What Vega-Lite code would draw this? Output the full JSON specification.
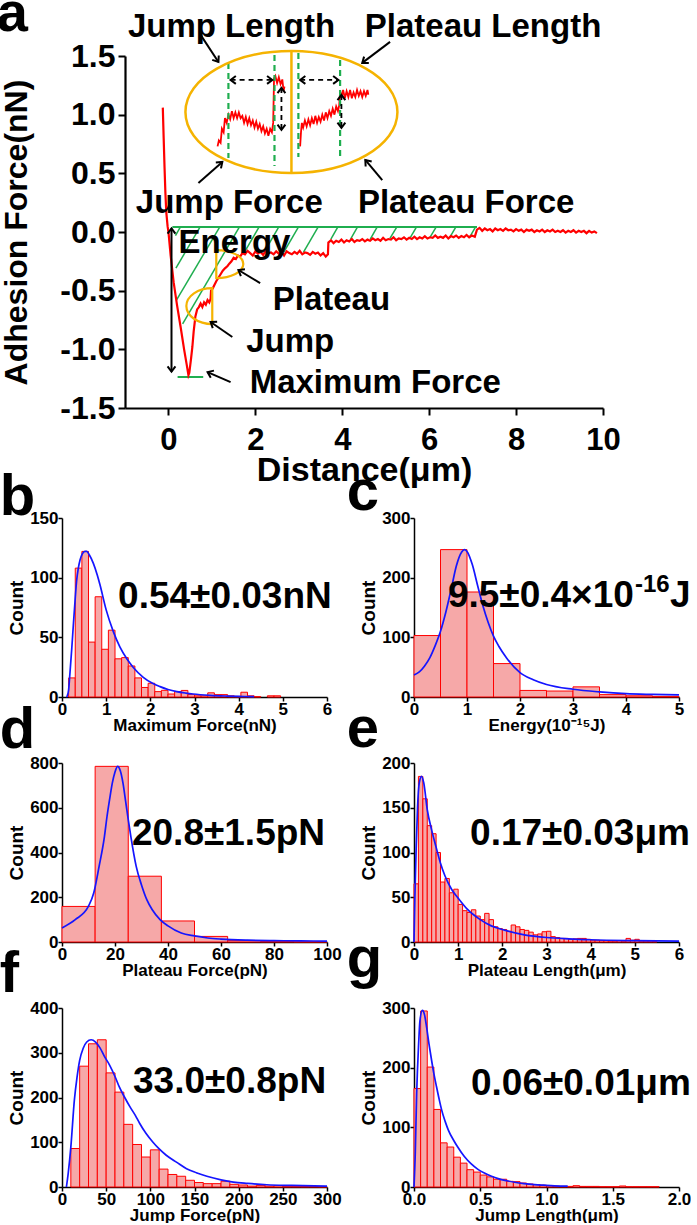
{
"$schema": "https://vega.github.io/schema/vega-lite/v6.json",
"background": "white",
"padding": {"left": -4, "top": -15, "right": 0, "bottom": 0},
"config": {
 "font": "Liberation Sans",
 "view": {"stroke": null},
 "axis": {"grid": false, "domainColor": "#000", "domainWidth": 1.5, "tickColor": "#000", "tickWidth": 1.5, "labelColor": "#000", "titleColor": "#000", "labelFont": "Liberation Sans", "titleFont": "Liberation Sans", "labelFontWeight": "bold", "titleFontWeight": "bold", "labelFontSize": 17, "titleFontSize": 17, "labelOverlap": false, "labelFlush": false, "labelPadding": 0, "titlePadding": 0},
 "axisY": {"titleFontSize": 19, "titlePadding": 3},
 "title": {"font": "Liberation Sans", "fontWeight": "bold", "fontSize": 58, "anchor": "start", "frame": "bounds", "color": "#000", "offset": 0, "baseline": "alphabetic"}
},
"datasets": {
 "aHatch": [
  {"x":0.276,"y":0.043,"x2":0.161,"y2":-0.030},{"x":0.729,"y":0.043,"x2":0.172,"y2":-0.307},{"x":1.182,"y":0.043,"x2":0.184,"y2":-0.580},{"x":1.634,"y":0.043,"x2":0.326,"y2":-0.783},{"x":2.087,"y":0.043,"x2":1.743,"y2":-0.176},{"x":2.540,"y":0.043,"x2":2.202,"y2":-0.171},{"x":2.993,"y":0.043,"x2":2.655,"y2":-0.171},{"x":3.446,"y":0.043,"x2":3.108,"y2":-0.171},{"x":3.899,"y":0.043,"x2":3.738,"y2":-0.060},{"x":4.352,"y":0.043,"x2":4.191,"y2":-0.060},{"x":4.805,"y":0.043,"x2":4.644,"y2":-0.060},{"x":5.257,"y":0.043,"x2":5.097,"y2":-0.055},{"x":5.710,"y":0.043,"x2":5.554,"y2":-0.055},{"x":6.163,"y":0.043,"x2":6.011,"y2":-0.051},{"x":6.616,"y":0.043,"x2":6.467,"y2":-0.051},{"x":7.069,"y":0.043,"x2":6.931,"y2":-0.043}
 ],
 "aGreen": [{"x":0.09,"y":0.043,"x2":7.1,"y2":0.043},{"x":0.21,"y":-1.236,"x2":0.80,"y2":-1.236}],
 "aGreenDash": [{"x":1.38,"y":1.441,"x2":1.38,"y2":0.631},{"x":2.44,"y":1.509,"x2":2.44,"y2":0.563},{"x":2.99,"y":1.526,"x2":2.99,"y2":0.639},{"x":3.95,"y":1.466,"x2":3.95,"y2":0.639}],
 "aOrangeLine": [{"x":2.83,"y":1.535,"x2":2.83,"y2":0.503}],
 "aBigEllipse": [{"x":2.83,"y":1.023}],
 "aJumpMark": [{"x":0.71,"y":-0.631}],
 "aPlateauMark": [{"x":1.41,"y":-0.273}],
 "aArrows": [{"x":0.07,"y":0.03,"x2":0.07,"y2":-1.19},{"x":0.74,"y":1.68,"x2":1.15,"y2":1.449},{"x":5.10,"y":1.62,"x2":4.46,"y2":1.441},{"x":0.69,"y":0.418,"x2":1.24,"y2":0.597},{"x":4.92,"y":0.443,"x2":4.53,"y2":0.614},{"x":2.11,"y":-0.435,"x2":1.61,"y2":-0.324},{"x":1.47,"y":-0.895,"x2":0.97,"y2":-0.767},{"x":1.43,"y":-1.279,"x2":0.90,"y2":-1.194}],
 "aDashArrows": [{"x":1.43,"y":1.296,"x2":2.39,"y2":1.296},{"x":3.03,"y":1.296,"x2":3.91,"y2":1.296},{"x":2.60,"y":1.228,"x2":2.60,"y2":0.870},{"x":3.98,"y":1.168,"x2":3.98,"y2":0.887}],
 "aHeads": [{"x":0.07,"y":0.03,"angle":-90},{"x":0.07,"y":-1.19,"angle":90},{"x":1.15,"y":1.449,"angle":56},{"x":4.46,"y":1.441,"angle":143},{"x":1.24,"y":0.597,"angle":-41},{"x":4.53,"y":0.614,"angle":-130},{"x":1.61,"y":-0.324,"angle":-149},{"x":0.97,"y":-0.767,"angle":-146},{"x":0.90,"y":-1.194,"angle":-156},{"x":1.43,"y":1.296,"angle":180},{"x":2.39,"y":1.296,"angle":0},{"x":3.03,"y":1.296,"angle":180},{"x":3.91,"y":1.296,"angle":0},{"x":2.60,"y":1.228,"angle":-90},{"x":2.60,"y":0.870,"angle":90},{"x":3.98,"y":1.168,"angle":-90},{"x":3.98,"y":0.887,"angle":90}],
 "aText": [{"label":"Jump Length","x":1.45,"y":1.662},{"label":"Plateau Length","x":7.24,"y":1.662},{"label":"Jump Force","x":1.40,"y":0.162},{"label":"Plateau Force","x":6.85,"y":0.162},{"label":"Energy","x":1.52,"y":-0.179},{"label":"Plateau","x":3.75,"y":-0.665},{"label":"Jump","x":2.80,"y":-1.023},{"label":"Maximum Force","x":4.76,"y":-1.373}],
 "aCurve": [
  {"x":-0.13,"y":1.06},{"x":-0.11,"y":0.8},{"x":-0.09,"y":0.55},{"x":-0.07,"y":0.33},{"x":-0.05,"y":0.17},{"x":-0.02,"y":0.05},{"x":0.0,"y":0.0},{"x":0.05,"y":-0.2},{"x":0.12,"y":-0.43},{"x":0.2,"y":-0.63},{"x":0.28,"y":-0.81},{"x":0.36,"y":-1.0},{"x":0.42,"y":-1.13},{"x":0.46,"y":-1.22},{"x":0.48,"y":-1.2},{"x":0.52,"y":-1.08},{"x":0.55,"y":-0.98},{"x":0.58,"y":-0.85},{"x":0.62,"y":-0.72},{"x":0.66,"y":-0.66},{"x":0.7,"y":-0.64},{"x":0.74,"y":-0.61},{"x":0.78,"y":-0.64},{"x":0.82,"y":-0.6},{"x":0.86,"y":-0.62},{"x":0.9,"y":-0.58},{"x":0.94,"y":-0.6},{"x":0.97,"y":-0.57},{"x":0.98,"y":-0.5},{"x":1.02,"y":-0.48},{"x":1.06,"y":-0.45},{"x":1.1,"y":-0.42},{"x":1.15,"y":-0.39},{"x":1.2,"y":-0.36},{"x":1.25,"y":-0.33},{"x":1.3,"y":-0.31},{"x":1.36,"y":-0.29},{"x":1.4,"y":-0.27},{"x":1.45,"y":-0.25},{"x":1.5,"y":-0.22},{"x":1.55,"y":-0.23},{"x":1.6,"y":-0.2},{"x":1.65,"y":-0.21},{"x":1.7,"y":-0.18},
  {"x":1.76,"y":-0.19},{"x":1.82,"y":-0.16},{"x":1.88,"y":-0.18},{"x":1.94,"y":-0.2},{"x":2.0,"y":-0.165},{"x":2.06,"y":-0.185},{"x":2.12,"y":-0.17},{"x":2.18,"y":-0.195},{"x":2.24,"y":-0.16},{"x":2.3,"y":-0.18},{"x":2.36,"y":-0.175},{"x":2.42,"y":-0.19},{"x":2.48,"y":-0.165},{"x":2.54,"y":-0.185},{"x":2.6,"y":-0.17},{"x":2.66,"y":-0.2},{"x":2.72,"y":-0.165},{"x":2.78,"y":-0.18},{"x":2.84,"y":-0.19},{"x":2.9,"y":-0.17},{"x":2.96,"y":-0.185},{"x":3.02,"y":-0.16},{"x":3.08,"y":-0.19},{"x":3.14,"y":-0.175},{"x":3.2,"y":-0.18},{"x":3.26,"y":-0.195},{"x":3.32,"y":-0.17},{"x":3.38,"y":-0.185},{"x":3.44,"y":-0.175},{"x":3.5,"y":-0.2},{"x":3.56,"y":-0.18},{"x":3.62,"y":-0.21},{"x":3.67,"y":-0.19},
  {"x":3.68,"y":-0.09},{"x":3.74,"y":-0.07},{"x":3.8,"y":-0.095},{"x":3.86,"y":-0.075},{"x":3.92,"y":-0.085},{"x":3.98,"y":-0.065},{"x":4.04,"y":-0.09},{"x":4.1,"y":-0.07},{"x":4.16,"y":-0.08},{"x":4.22,"y":-0.06},{"x":4.28,"y":-0.085},{"x":4.34,"y":-0.07},{"x":4.4,"y":-0.075},{"x":4.46,"y":-0.06},{"x":4.52,"y":-0.08},{"x":4.58,"y":-0.065},{"x":4.64,"y":-0.075},{"x":4.7,"y":-0.055},{"x":4.76,"y":-0.07},{"x":4.82,"y":-0.06},{"x":4.88,"y":-0.075},{"x":4.94,"y":-0.05},{"x":5.0,"y":-0.07},{"x":5.06,"y":-0.06},{"x":5.12,"y":-0.065},{"x":5.18,"y":-0.045},{"x":5.24,"y":-0.07},{"x":5.3,"y":-0.055},{"x":5.36,"y":-0.06},{"x":5.42,"y":-0.045},{"x":5.48,"y":-0.065},{"x":5.54,"y":-0.05},{"x":5.6,"y":-0.06},{"x":5.66,"y":-0.04},{"x":5.72,"y":-0.06},{"x":5.78,"y":-0.045},{"x":5.84,"y":-0.055},{"x":5.9,"y":-0.035},{"x":5.96,"y":-0.055},{"x":6.02,"y":-0.045},{"x":6.08,"y":-0.05},{"x":6.14,"y":-0.03},{"x":6.2,"y":-0.05},{"x":6.26,"y":-0.04},{"x":6.32,"y":-0.05},{"x":6.38,"y":-0.03},{"x":6.44,"y":-0.055},{"x":6.5,"y":-0.035},{"x":6.56,"y":-0.045},{"x":6.62,"y":-0.03},{"x":6.68,"y":-0.05},{"x":6.74,"y":-0.035},{"x":6.8,"y":-0.045},{"x":6.86,"y":-0.025},{"x":6.92,"y":-0.045},{"x":6.98,"y":-0.03},{"x":7.05,"y":-0.04},
  {"x":7.1,"y":0.02},{"x":7.16,"y":0.035},{"x":7.22,"y":0.01},{"x":7.28,"y":0.03},{"x":7.34,"y":0.015},{"x":7.4,"y":0.025},{"x":7.46,"y":0.005},{"x":7.52,"y":0.03},{"x":7.58,"y":0.015},{"x":7.64,"y":0.025},{"x":7.7,"y":0.01},{"x":7.76,"y":0.03},{"x":7.82,"y":0.015},{"x":7.88,"y":0.02},{"x":7.94,"y":0.005},{"x":8.0,"y":0.025},{"x":8.06,"y":0.01},{"x":8.12,"y":0.02},{"x":8.18,"y":0.0},{"x":8.24,"y":0.02},{"x":8.3,"y":0.01},{"x":8.36,"y":0.02},{"x":8.42,"y":0.0},{"x":8.48,"y":0.015},{"x":8.54,"y":0.005},{"x":8.6,"y":0.02},{"x":8.66,"y":0.0},{"x":8.72,"y":0.015},{"x":8.78,"y":0.005},{"x":8.84,"y":0.02},{"x":8.9,"y":0.0},{"x":8.96,"y":0.01},{"x":9.02,"y":0.0},{"x":9.08,"y":0.015},{"x":9.14,"y":-0.005},{"x":9.2,"y":0.01},{"x":9.26,"y":0.0},{"x":9.32,"y":0.015},{"x":9.38,"y":-0.005},{"x":9.44,"y":0.01},{"x":9.5,"y":0.0},{"x":9.56,"y":0.01},{"x":9.62,"y":-0.01},{"x":9.68,"y":0.01},{"x":9.74,"y":-0.005},{"x":9.8,"y":0.005},{"x":9.86,"y":-0.01}
 ],
 "aInset": [
  {"seg":"L","x":1.13,"y":0.73},{"seg":"L","x":1.16,"y":0.78},{"seg":"L","x":1.2,"y":0.76},{"seg":"L","x":1.23,"y":0.88},{"seg":"L","x":1.27,"y":0.85},{"seg":"L","x":1.3,"y":0.97},{"seg":"L","x":1.34,"y":0.93},{"seg":"L","x":1.38,"y":1.0},{"seg":"L","x":1.42,"y":0.96},{"seg":"L","x":1.46,"y":1.03},{"seg":"L","x":1.5,"y":0.97},{"seg":"L","x":1.54,"y":1.02},{"seg":"L","x":1.58,"y":0.97},{"seg":"L","x":1.62,"y":1.02},{"seg":"L","x":1.66,"y":0.97},{"seg":"L","x":1.7,"y":0.99},{"seg":"L","x":1.74,"y":0.93},{"seg":"L","x":1.78,"y":0.98},{"seg":"L","x":1.82,"y":0.92},{"seg":"L","x":1.86,"y":0.97},{"seg":"L","x":1.9,"y":0.91},{"seg":"L","x":1.94,"y":0.95},{"seg":"L","x":1.98,"y":0.89},{"seg":"L","x":2.02,"y":0.94},{"seg":"L","x":2.06,"y":0.88},{"seg":"L","x":2.1,"y":0.92},{"seg":"L","x":2.14,"y":0.86},{"seg":"L","x":2.18,"y":0.9},{"seg":"L","x":2.22,"y":0.84},{"seg":"L","x":2.26,"y":0.88},{"seg":"L","x":2.3,"y":0.82},{"seg":"L","x":2.34,"y":0.88},{"seg":"L","x":2.38,"y":0.85},{"seg":"L","x":2.41,"y":0.93},{"seg":"L","x":2.43,"y":1.31},{"seg":"L","x":2.46,"y":1.33},{"seg":"L","x":2.5,"y":1.27},{"seg":"L","x":2.54,"y":1.32},{"seg":"L","x":2.58,"y":1.26},{"seg":"L","x":2.62,"y":1.3},{"seg":"L","x":2.65,"y":1.2},{"seg":"L","x":2.67,"y":1.24},
  {"seg":"R","x":3.03,"y":0.73},{"seg":"R","x":3.05,"y":0.85},{"seg":"R","x":3.07,"y":0.93},{"seg":"R","x":3.1,"y":0.89},{"seg":"R","x":3.14,"y":0.95},{"seg":"R","x":3.18,"y":0.9},{"seg":"R","x":3.22,"y":0.96},{"seg":"R","x":3.26,"y":0.91},{"seg":"R","x":3.3,"y":0.97},{"seg":"R","x":3.34,"y":0.92},{"seg":"R","x":3.38,"y":0.99},{"seg":"R","x":3.42,"y":0.93},{"seg":"R","x":3.46,"y":0.98},{"seg":"R","x":3.5,"y":0.94},{"seg":"R","x":3.54,"y":1.0},{"seg":"R","x":3.58,"y":0.95},{"seg":"R","x":3.62,"y":1.02},{"seg":"R","x":3.66,"y":0.97},{"seg":"R","x":3.7,"y":1.03},{"seg":"R","x":3.74,"y":0.99},{"seg":"R","x":3.78,"y":1.05},{"seg":"R","x":3.82,"y":1.0},{"seg":"R","x":3.86,"y":1.07},{"seg":"R","x":3.9,"y":1.03},{"seg":"R","x":3.93,"y":1.08},{"seg":"R","x":3.95,"y":1.2},{"seg":"R","x":3.98,"y":1.15},{"seg":"R","x":4.02,"y":1.21},{"seg":"R","x":4.06,"y":1.14},{"seg":"R","x":4.1,"y":1.2},{"seg":"R","x":4.14,"y":1.15},{"seg":"R","x":4.18,"y":1.21},{"seg":"R","x":4.22,"y":1.14},{"seg":"R","x":4.26,"y":1.19},{"seg":"R","x":4.3,"y":1.15},{"seg":"R","x":4.34,"y":1.21},{"seg":"R","x":4.38,"y":1.16},{"seg":"R","x":4.42,"y":1.2},{"seg":"R","x":4.46,"y":1.15},{"seg":"R","x":4.5,"y":1.2},{"seg":"R","x":4.54,"y":1.16},{"seg":"R","x":4.58,"y":1.21},{"seg":"R","x":4.6,"y":1.17}
 ],
 "bBars": [{"x0":0.15,"x1":0.3,"count":16},{"x0":0.3,"x1":0.45,"count":108},{"x0":0.45,"x1":0.6,"count":122},{"x0":0.6,"x1":0.75,"count":46},{"x0":0.75,"x1":0.9,"count":84},{"x0":0.9,"x1":1.05,"count":40},{"x0":1.05,"x1":1.2,"count":56},{"x0":1.2,"x1":1.35,"count":32},{"x0":1.35,"x1":1.5,"count":33},{"x0":1.5,"x1":1.65,"count":26},{"x0":1.65,"x1":1.8,"count":16},{"x0":1.8,"x1":1.95,"count":8},{"x0":1.95,"x1":2.1,"count":11.5},{"x0":2.1,"x1":2.25,"count":4.5},{"x0":2.25,"x1":2.4,"count":5.6},{"x0":2.4,"x1":2.55,"count":2.5},{"x0":2.55,"x1":2.7,"count":4.5},{"x0":2.7,"x1":2.85,"count":5.5},{"x0":2.85,"x1":3.0,"count":2},{"x0":3.0,"x1":3.15,"count":1},{"x0":3.15,"x1":3.3,"count":1},{"x0":3.3,"x1":3.45,"count":3.5},{"x0":3.45,"x1":3.6,"count":2},{"x0":3.6,"x1":3.75,"count":2},{"x0":3.75,"x1":3.9,"count":1},{"x0":3.9,"x1":4.05,"count":0.5},{"x0":4.05,"x1":4.2,"count":4},{"x0":4.2,"x1":4.35,"count":1},{"x0":4.35,"x1":4.5,"count":0.3},{"x0":4.65,"x1":4.8,"count":1},{"x0":4.8,"x1":4.95,"count":1}],
 "bFit": [{"x":0.1,"y":0},{"x":0.12,"y":1},{"x":0.15,"y":6},{"x":0.18,"y":20},{"x":0.22,"y":40},{"x":0.26,"y":62},{"x":0.3,"y":83},{"x":0.33,"y":97},{"x":0.37,"y":108},{"x":0.41,"y":115},{"x":0.46,"y":120},{"x":0.52,"y":122},{"x":0.56,"y":122},{"x":0.62,"y":119},{"x":0.71,"y":112},{"x":0.8,"y":102},{"x":0.86,"y":94},{"x":1.0,"y":73},{"x":1.16,"y":55},{"x":1.31,"y":42},{"x":1.46,"y":32.5},{"x":1.61,"y":25},{"x":1.84,"y":16.5},{"x":2.05,"y":11.5},{"x":2.22,"y":8.7},{"x":2.4,"y":6.3},{"x":2.6,"y":4.5},{"x":2.8,"y":3.3},{"x":2.97,"y":2.5},{"x":3.35,"y":1.4},{"x":3.73,"y":0.8},{"x":4.0,"y":0.5},{"x":4.35,"y":0.3}],
 "cBars": [{"x0":0,"x1":0.5,"count":103},{"x0":0.5,"x1":1,"count":247},{"x0":1,"x1":1.5,"count":176},{"x0":1.5,"x1":2,"count":56},{"x0":2,"x1":2.5,"count":11},{"x0":2.5,"x1":3,"count":10},{"x0":3,"x1":3.5,"count":17},{"x0":3.5,"x1":4,"count":4},{"x0":4,"x1":4.5,"count":2},{"x0":4.5,"x1":5,"count":1}],
 "cFit": [{"x":0,"y":37},{"x":0.1,"y":42},{"x":0.2,"y":52},{"x":0.3,"y":66},{"x":0.4,"y":86},{"x":0.5,"y":110},{"x":0.6,"y":142},{"x":0.7,"y":180},{"x":0.8,"y":220},{"x":0.9,"y":243},{"x":0.95,"y":247},{"x":1.0,"y":244},{"x":1.1,"y":222},{"x":1.2,"y":187},{"x":1.3,"y":153},{"x":1.4,"y":125},{"x":1.5,"y":102},{"x":1.6,"y":85},{"x":1.75,"y":65},{"x":2.0,"y":41},{"x":2.25,"y":29},{"x":2.5,"y":21},{"x":3.0,"y":13},{"x":3.5,"y":8.5},{"x":4.0,"y":5.5},{"x":4.5,"y":4.3},{"x":5.0,"y":3.5}],
 "dBars": [{"x0":0,"x1":12.5,"count":159},{"x0":12.5,"x1":25,"count":785},{"x0":25,"x1":37.5,"count":294},{"x0":37.5,"x1":50,"count":94},{"x0":50,"x1":62.5,"count":25},{"x0":62.5,"x1":75,"count":6},{"x0":75,"x1":87.5,"count":2},{"x0":87.5,"x1":100,"count":1}],
 "dFit": [{"x":0,"y":63},{"x":5,"y":100},{"x":10,"y":160},{"x":12,"y":220},{"x":14,"y":338},{"x":16,"y":470},{"x":17,"y":562},{"x":18,"y":640},{"x":19,"y":711},{"x":20,"y":760},{"x":21,"y":785},{"x":22,"y":765},{"x":23,"y":711},{"x":24,"y":630},{"x":25,"y":547},{"x":26,"y":470},{"x":28,"y":338},{"x":30,"y":255},{"x":32,"y":189},{"x":34,"y":145},{"x":37,"y":100},{"x":40,"y":72},{"x":45,"y":40},{"x":50,"y":27},{"x":55,"y":18},{"x":60,"y":13},{"x":70,"y":8},{"x":80,"y":6},{"x":90,"y":5},{"x":100,"y":4}],
 "eBars": [{"x0":0,"x1":0.1,"count":65},{"x0":0.1,"x1":0.2,"count":185},{"x0":0.2,"x1":0.3,"count":160},{"x0":0.3,"x1":0.4,"count":130},{"x0":0.4,"x1":0.5,"count":121},{"x0":0.5,"x1":0.6,"count":100},{"x0":0.6,"x1":0.7,"count":67},{"x0":0.7,"x1":0.8,"count":71},{"x0":0.8,"x1":0.9,"count":55},{"x0":0.9,"x1":1.0,"count":59},{"x0":1.0,"x1":1.1,"count":42},{"x0":1.1,"x1":1.2,"count":35},{"x0":1.2,"x1":1.3,"count":33},{"x0":1.3,"x1":1.4,"count":36},{"x0":1.4,"x1":1.5,"count":29},{"x0":1.5,"x1":1.6,"count":25},{"x0":1.6,"x1":1.7,"count":32},{"x0":1.7,"x1":1.8,"count":25},{"x0":1.8,"x1":1.9,"count":17},{"x0":1.9,"x1":2.0,"count":15},{"x0":2.0,"x1":2.1,"count":14},{"x0":2.1,"x1":2.2,"count":12},{"x0":2.2,"x1":2.3,"count":19},{"x0":2.3,"x1":2.4,"count":17},{"x0":2.4,"x1":2.5,"count":14},{"x0":2.5,"x1":2.6,"count":13},{"x0":2.6,"x1":2.7,"count":11},{"x0":2.7,"x1":2.8,"count":8},{"x0":2.8,"x1":2.9,"count":9},{"x0":2.9,"x1":3.0,"count":11.5},{"x0":3.0,"x1":3.1,"count":12},{"x0":3.1,"x1":3.2,"count":6},{"x0":3.2,"x1":3.3,"count":5},{"x0":3.3,"x1":3.4,"count":4},{"x0":3.4,"x1":3.5,"count":4},{"x0":3.5,"x1":3.6,"count":3},{"x0":3.6,"x1":3.7,"count":3.5},{"x0":3.7,"x1":3.8,"count":4},{"x0":3.8,"x1":3.9,"count":4},{"x0":3.9,"x1":4.0,"count":3},{"x0":4.0,"x1":4.1,"count":2},{"x0":4.1,"x1":4.2,"count":2},{"x0":4.2,"x1":4.3,"count":1.5},{"x0":4.3,"x1":4.4,"count":1.5},{"x0":4.4,"x1":4.5,"count":1},{"x0":4.5,"x1":4.6,"count":1},{"x0":4.6,"x1":4.7,"count":1.5},{"x0":4.7,"x1":4.8,"count":1},{"x0":4.8,"x1":4.9,"count":4},{"x0":4.9,"x1":5.0,"count":2},{"x0":5.0,"x1":5.1,"count":3},{"x0":5.1,"x1":5.2,"count":1},{"x0":5.2,"x1":5.3,"count":1},{"x0":5.3,"x1":5.4,"count":1},{"x0":5.4,"x1":5.5,"count":0.5}],
 "eFit": [{"x":0,"y":0},{"x":0.02,"y":50},{"x":0.05,"y":106},{"x":0.08,"y":150},{"x":0.12,"y":178},{"x":0.17,"y":185},{"x":0.22,"y":178},{"x":0.3,"y":148},{"x":0.4,"y":125},{"x":0.5,"y":106},{"x":0.6,"y":88},{"x":0.7,"y":74},{"x":0.85,"y":59},{"x":1.0,"y":49},{"x":1.2,"y":37},{"x":1.5,"y":25},{"x":1.75,"y":18},{"x":2.0,"y":14},{"x":2.5,"y":8},{"x":3.0,"y":5},{"x":3.5,"y":3.5},{"x":4.0,"y":2.5},{"x":5.0,"y":1.5},{"x":6.0,"y":1}],
 "fBars": [{"x0":10,"x1":20,"count":86},{"x0":20,"x1":30,"count":270},{"x0":30,"x1":40,"count":320},{"x0":40,"x1":50,"count":329},{"x0":50,"x1":60,"count":255},{"x0":60,"x1":70,"count":212},{"x0":70,"x1":80,"count":140},{"x0":80,"x1":90,"count":95},{"x0":90,"x1":100,"count":67},{"x0":100,"x1":110,"count":83},{"x0":110,"x1":120,"count":40},{"x0":120,"x1":130,"count":28},{"x0":130,"x1":140,"count":24},{"x0":140,"x1":150,"count":15},{"x0":150,"x1":160,"count":10},{"x0":160,"x1":170,"count":7.5},{"x0":170,"x1":180,"count":7.5},{"x0":180,"x1":190,"count":13},{"x0":190,"x1":200,"count":6},{"x0":200,"x1":210,"count":4.5},{"x0":210,"x1":220,"count":2},{"x0":220,"x1":230,"count":3.7},{"x0":230,"x1":240,"count":2},{"x0":240,"x1":250,"count":3},{"x0":250,"x1":260,"count":1.5},{"x0":260,"x1":270,"count":1.5},{"x0":270,"x1":280,"count":1},{"x0":280,"x1":290,"count":1},{"x0":290,"x1":300,"count":0.7}],
 "fFit": [{"x":5,"y":0},{"x":7,"y":30},{"x":10,"y":89},{"x":14,"y":194},{"x":17,"y":245},{"x":20,"y":283},{"x":24,"y":310},{"x":28,"y":324},{"x":33,"y":329},{"x":38,"y":324},{"x":43,"y":311},{"x":48,"y":292},{"x":54,"y":272},{"x":60,"y":247},{"x":65,"y":223},{"x":71,"y":200},{"x":77,"y":179},{"x":83,"y":160},{"x":88,"y":142},{"x":95,"y":120},{"x":103,"y":100},{"x":110,"y":85},{"x":118,"y":71},{"x":130,"y":55},{"x":141,"y":41},{"x":152,"y":32},{"x":164,"y":24},{"x":180,"y":16},{"x":194,"y":11},{"x":210,"y":8},{"x":232,"y":5},{"x":260,"y":3.5},{"x":300,"y":2}],
 "gBars": [{"x0":0,"x1":0.05,"count":165},{"x0":0.05,"x1":0.1,"count":295},{"x0":0.1,"x1":0.15,"count":201},{"x0":0.15,"x1":0.2,"count":130},{"x0":0.2,"x1":0.25,"count":74},{"x0":0.25,"x1":0.3,"count":67},{"x0":0.3,"x1":0.35,"count":50},{"x0":0.35,"x1":0.4,"count":40},{"x0":0.4,"x1":0.45,"count":29},{"x0":0.45,"x1":0.5,"count":25},{"x0":0.5,"x1":0.55,"count":20},{"x0":0.55,"x1":0.6,"count":17},{"x0":0.6,"x1":0.65,"count":13},{"x0":0.65,"x1":0.7,"count":13},{"x0":0.7,"x1":0.75,"count":9.5},{"x0":0.75,"x1":0.8,"count":9},{"x0":0.8,"x1":0.85,"count":6.7},{"x0":0.85,"x1":0.9,"count":5},{"x0":0.9,"x1":0.95,"count":4},{"x0":0.95,"x1":1.0,"count":3},{"x0":1.0,"x1":1.05,"count":2},{"x0":1.05,"x1":1.1,"count":1.5},{"x0":1.1,"x1":1.15,"count":1},{"x0":1.15,"x1":1.2,"count":1},{"x0":1.2,"x1":1.25,"count":2.2},{"x0":1.25,"x1":1.3,"count":1},{"x0":1.3,"x1":1.35,"count":1},{"x0":1.35,"x1":1.4,"count":1},{"x0":1.4,"x1":1.45,"count":0.5},{"x0":1.45,"x1":1.5,"count":0.5},{"x0":1.5,"x1":1.55,"count":0.5},{"x0":1.55,"x1":1.6,"count":1.7},{"x0":1.6,"x1":1.65,"count":0.5},{"x0":1.65,"x1":1.7,"count":0.5},{"x0":1.7,"x1":1.75,"count":0.5},{"x0":1.75,"x1":1.8,"count":0.5},{"x0":1.8,"x1":1.85,"count":0.5}],
 "gFit": [{"x":0,"y":0},{"x":0.01,"y":60},{"x":0.02,"y":156},{"x":0.035,"y":240},{"x":0.045,"y":279},{"x":0.063,"y":296},{"x":0.08,"y":288},{"x":0.095,"y":268},{"x":0.113,"y":240},{"x":0.133,"y":212},{"x":0.15,"y":190},{"x":0.17,"y":168},{"x":0.19,"y":147},{"x":0.21,"y":128},{"x":0.235,"y":110},{"x":0.26,"y":95},{"x":0.3,"y":78},{"x":0.33,"y":67},{"x":0.38,"y":51},{"x":0.43,"y":39},{"x":0.48,"y":30},{"x":0.535,"y":23},{"x":0.585,"y":18},{"x":0.635,"y":14},{"x":0.7,"y":10.5},{"x":0.76,"y":8},{"x":0.83,"y":5.8},{"x":0.91,"y":4},{"x":0.98,"y":3},{"x":1.06,"y":2},{"x":1.16,"y":1.5}]
},
"concat": [
   {"width": 265, "height": 396,
    "title": {"text": "a", "dx": -4, "dy": 36, "fontSize": 56},
    "layer": [
     {"data": {"name": "aHatch"}, "mark": {"type": "rule", "color": "#1fae4f", "strokeWidth": 1.5},
      "encoding": {
       "x": {"field": "x", "type": "quantitative", "scale": {"domain": [-1, 10], "range": [63, 541], "nice": false, "zero": false},
             "axis": {"title": "Distance(μm)", "offset": -44, "values": [0,1,2,3,4,5,6,7,8,9,10], "labelExpr": "datum.value % 2 === 0 ? datum.label : ''", "tickSize": {"condition": {"test": "datum.value % 2 === 0", "value": 7}, "value": 4}, "labelFontSize": 31, "titleFontSize": 34, "domainWidth": 2.2, "tickWidth": 2, "labelPadding": 10, "titlePadding": -2}},
       "y": {"field": "y", "type": "quantitative", "scale": {"domain": [-1.5, 1.5], "range": [352, 0], "nice": false, "zero": false},
             "axis": {"title": "Adhesion Force(nN)", "offset": -63, "values": [-1.5,-1.25,-1,-0.75,-0.5,-0.25,0,0.25,0.5,0.75,1,1.25,1.5], "labelExpr": "datum.value % 0.5 === 0 ? replace(format(datum.value, '.1f'), '\u2212', '-') : ''", "tickSize": {"condition": {"test": "datum.value % 0.5 === 0", "value": 7}, "value": 4}, "labelFontSize": 32, "titleFontSize": 32, "domainWidth": 2.2, "tickWidth": 2, "labelPadding": 3, "titlePadding": 26}},
       "x2": {"field": "x2"}, "y2": {"field": "y2"}}},
     {"data": {"name": "aGreen"}, "mark": {"type": "rule", "color": "#1fae4f", "strokeWidth": 2},
      "encoding": {"x": {"field": "x", "type": "quantitative"}, "y": {"field": "y", "type": "quantitative"}, "x2": {"field": "x2"}, "y2": {"field": "y2"}}},
     {"data": {"name": "aCurve"}, "mark": {"type": "line", "color": "#ff0000", "strokeWidth": 2.2},
      "encoding": {"x": {"field": "x", "type": "quantitative"}, "y": {"field": "y", "type": "quantitative"}, "order": {"field": "x", "type": "quantitative"}}},
     {"data": {"name": "aInset"}, "mark": {"type": "line", "color": "#ff0000", "strokeWidth": 1.8},
      "encoding": {"x": {"field": "x", "type": "quantitative"}, "y": {"field": "y", "type": "quantitative"}, "detail": {"field": "seg"}}},
     {"data": {"name": "aGreenDash"}, "mark": {"type": "rule", "color": "#1fae4f", "strokeWidth": 2.2, "strokeDash": [6, 4]},
      "encoding": {"x": {"field": "x", "type": "quantitative"}, "y": {"field": "y", "type": "quantitative"}, "x2": {"field": "x2"}, "y2": {"field": "y2"}}},
     {"data": {"name": "aOrangeLine"}, "mark": {"type": "rule", "color": "#f5b301", "strokeWidth": 2.5},
      "encoding": {"x": {"field": "x", "type": "quantitative"}, "y": {"field": "y", "type": "quantitative"}, "x2": {"field": "x2"}, "y2": {"field": "y2"}}},
     {"data": {"name": "aBigEllipse"}, "mark": {"type": "point", "shape": "M-1,0A1,0.575,0,1,0,1,0A1,0.575,0,1,0,-1,0", "size": 44944, "filled": false, "stroke": "#f5b301", "strokeWidth": 2.5, "opacity": 1},
      "encoding": {"x": {"field": "x", "type": "quantitative"}, "y": {"field": "y", "type": "quantitative"}}},
     {"data": {"name": "aJumpMark"}, "mark": {"type": "point", "shape": "M0.72,-1A1.44,1,0,0,0,0.72,1Z", "size": 1296, "filled": false, "stroke": "#f5b301", "strokeWidth": 2.2, "opacity": 1},
      "encoding": {"x": {"field": "x", "type": "quantitative"}, "y": {"field": "y", "type": "quantitative"}}},
     {"data": {"name": "aPlateauMark"}, "mark": {"type": "point", "shape": "M-0.96,-1A1.93,1,0,0,1,-0.96,1Z", "size": 784, "filled": false, "stroke": "#f5b301", "strokeWidth": 2.2, "opacity": 1},
      "encoding": {"x": {"field": "x", "type": "quantitative"}, "y": {"field": "y", "type": "quantitative"}}},
     {"data": {"name": "aArrows"}, "mark": {"type": "rule", "color": "#000", "strokeWidth": 2},
      "encoding": {"x": {"field": "x", "type": "quantitative"}, "y": {"field": "y", "type": "quantitative"}, "x2": {"field": "x2"}, "y2": {"field": "y2"}}},
     {"data": {"name": "aDashArrows"}, "mark": {"type": "rule", "color": "#000", "strokeWidth": 1.8, "strokeDash": [5, 4]},
      "encoding": {"x": {"field": "x", "type": "quantitative"}, "y": {"field": "y", "type": "quantitative"}, "x2": {"field": "x2"}, "y2": {"field": "y2"}}},
     {"data": {"name": "aHeads"}, "mark": {"type": "point", "shape": "M-1,-0.75L0,0L-1,0.75", "size": 110, "filled": false, "stroke": "#000", "strokeWidth": 2, "opacity": 1},
      "encoding": {"x": {"field": "x", "type": "quantitative"}, "y": {"field": "y", "type": "quantitative"}, "angle": {"field": "angle", "type": "quantitative", "scale": null}}},
     {"data": {"name": "aText"}, "mark": {"type": "text", "fontSize": 33, "fontWeight": "bold", "align": "center", "baseline": "alphabetic", "color": "#000"},
      "encoding": {"x": {"field": "x", "type": "quantitative"}, "y": {"field": "y", "type": "quantitative"}, "text": {"field": "label"}}}
    ]},
   {"width": 1, "height": 1, "data": {"values": []}, "mark": "point"},
   {"width": 265, "height": 179, "title": {"text": "b", "dx": -8, "dy": 22},
    "layer": [
     {"data": {"name": "bBars"}, "mark": {"type": "rect", "fill": "#f6a8a8", "stroke": "#ff0000", "strokeWidth": 1},
      "encoding": {
       "x": {"field": "x0", "type": "quantitative", "scale": {"domain": [0, 6], "nice": false, "zero": false}, "axis": {"title": "Maximum Force(nN)", "values": [0,0.5,1,1.5,2,2.5,3,3.5,4,4.5,5,5.5,6], "labelExpr": "datum.value % 1 === 0 ? datum.label : ''", "tickSize": {"condition": {"test": "datum.value % 1 === 0", "value": 4}, "value": 2}}},
       "x2": {"field": "x1"},
       "y": {"field": "count", "type": "quantitative", "scale": {"domain": [0, 150], "nice": false}, "axis": {"title": "Count", "values": [0,25,50,75,100,125,150], "labelExpr": "datum.value % 50 === 0 ? datum.label : ''", "tickSize": {"condition": {"test": "datum.value % 50 === 0", "value": 4}, "value": 2}}},
       "y2": {"datum": 0}}},
     {"data": {"name": "bFit"}, "mark": {"type": "line", "color": "#1515ff", "strokeWidth": 1.7, "interpolate": "monotone"},
      "encoding": {"x": {"field": "x", "type": "quantitative"}, "y": {"field": "y", "type": "quantitative"}}},
     {"data": {"values": [{"label": "0.54±0.03nN"}]}, "mark": {"type": "text", "fontSize": 37, "fontWeight": "bold", "align": "left", "baseline": "alphabetic", "color": "#000"},
      "encoding": {"text": {"field": "label"}, "x": {"datum": 1.27}, "y": {"datum": 75}}}
    ]},
   {"width": 265, "height": 179, "title": {"text": "c", "dx": -13, "dy": 17},
    "layer": [
     {"data": {"name": "cBars"}, "mark": {"type": "rect", "fill": "#f6a8a8", "stroke": "#ff0000", "strokeWidth": 1},
      "encoding": {
       "x": {"field": "x0", "type": "quantitative", "scale": {"domain": [0, 5], "nice": false, "zero": false}, "axis": {"title": "Energy(10⁻¹⁵J)", "values": [0,0.5,1,1.5,2,2.5,3,3.5,4,4.5,5], "labelExpr": "datum.value % 1 === 0 ? datum.label : ''", "tickSize": {"condition": {"test": "datum.value % 1 === 0", "value": 4}, "value": 2}}},
       "x2": {"field": "x1"},
       "y": {"field": "count", "type": "quantitative", "scale": {"domain": [0, 300], "nice": false}, "axis": {"title": "Count", "values": [0,50,100,150,200,250,300], "labelExpr": "datum.value % 100 === 0 ? datum.label : ''", "tickSize": {"condition": {"test": "datum.value % 100 === 0", "value": 4}, "value": 2}}},
       "y2": {"datum": 0}}},
     {"data": {"name": "cFit"}, "mark": {"type": "line", "color": "#1515ff", "strokeWidth": 1.7, "interpolate": "monotone"},
      "encoding": {"x": {"field": "x", "type": "quantitative"}, "y": {"field": "y", "type": "quantitative"}}},
     {"data": {"values": [{"label": "9.5±0.4×10"}]}, "mark": {"type": "text", "fontSize": 37, "fontWeight": "bold", "align": "left", "baseline": "alphabetic", "color": "#000"},
      "encoding": {"text": {"field": "label"}, "x": {"datum": 0.64}, "y": {"datum": 151}}},
     {"data": {"values": [{"label": "-16"}]}, "mark": {"type": "text", "fontSize": 24, "fontWeight": "bold", "align": "left", "baseline": "alphabetic", "color": "#000"},
      "encoding": {"text": {"field": "label"}, "x": {"datum": 4.17}, "y": {"datum": 176}}},
     {"data": {"values": [{"label": "J"}]}, "mark": {"type": "text", "fontSize": 37, "fontWeight": "bold", "align": "left", "baseline": "alphabetic", "color": "#000"},
      "encoding": {"text": {"field": "label"}, "x": {"datum": 4.83}, "y": {"datum": 151}}}
    ]},
   {"width": 265, "height": 179, "title": {"text": "d", "dx": -8, "dy": 10},
    "layer": [
     {"data": {"name": "dBars"}, "mark": {"type": "rect", "fill": "#f6a8a8", "stroke": "#ff0000", "strokeWidth": 1},
      "encoding": {
       "x": {"field": "x0", "type": "quantitative", "scale": {"domain": [0, 100], "nice": false, "zero": false}, "axis": {"title": "Plateau Force(pN)", "values": [0,10,20,30,40,50,60,70,80,90,100], "labelExpr": "datum.value % 20 === 0 ? datum.label : ''", "tickSize": {"condition": {"test": "datum.value % 20 === 0", "value": 4}, "value": 2}}},
       "x2": {"field": "x1"},
       "y": {"field": "count", "type": "quantitative", "scale": {"domain": [0, 800], "nice": false}, "axis": {"title": "Count", "values": [0,100,200,300,400,500,600,700,800], "labelExpr": "datum.value % 200 === 0 ? datum.label : ''", "tickSize": {"condition": {"test": "datum.value % 200 === 0", "value": 4}, "value": 2}}},
       "y2": {"datum": 0}}},
     {"data": {"name": "dFit"}, "mark": {"type": "line", "color": "#1515ff", "strokeWidth": 1.7, "interpolate": "monotone"},
      "encoding": {"x": {"field": "x", "type": "quantitative"}, "y": {"field": "y", "type": "quantitative"}}},
     {"data": {"values": [{"label": "20.8±1.5pN"}]}, "mark": {"type": "text", "fontSize": 37, "fontWeight": "bold", "align": "left", "baseline": "alphabetic", "color": "#000"},
      "encoding": {"text": {"field": "label"}, "x": {"datum": 26.4}, "y": {"datum": 433}}}
    ]},
   {"width": 265, "height": 179, "title": {"text": "e", "dx": -13, "dy": 9},
    "layer": [
     {"data": {"name": "eBars"}, "mark": {"type": "rect", "fill": "#f6a8a8", "stroke": "#ff0000", "strokeWidth": 1},
      "encoding": {
       "x": {"field": "x0", "type": "quantitative", "scale": {"domain": [0, 6], "nice": false, "zero": false}, "axis": {"title": "Plateau Length(μm)", "values": [0,0.5,1,1.5,2,2.5,3,3.5,4,4.5,5,5.5,6], "labelExpr": "datum.value % 1 === 0 ? datum.label : ''", "tickSize": {"condition": {"test": "datum.value % 1 === 0", "value": 4}, "value": 2}}},
       "x2": {"field": "x1"},
       "y": {"field": "count", "type": "quantitative", "scale": {"domain": [0, 200], "nice": false}, "axis": {"title": "Count", "values": [0,25,50,75,100,125,150,175,200], "labelExpr": "datum.value % 50 === 0 ? datum.label : ''", "tickSize": {"condition": {"test": "datum.value % 50 === 0", "value": 4}, "value": 2}}},
       "y2": {"datum": 0}}},
     {"data": {"name": "eFit"}, "mark": {"type": "line", "color": "#1515ff", "strokeWidth": 1.7, "interpolate": "monotone"},
      "encoding": {"x": {"field": "x", "type": "quantitative"}, "y": {"field": "y", "type": "quantitative"}}},
     {"data": {"values": [{"label": "0.17±0.03μm"}]}, "mark": {"type": "text", "fontSize": 37, "fontWeight": "bold", "align": "left", "baseline": "alphabetic", "color": "#000"},
      "encoding": {"text": {"field": "label"}, "x": {"datum": 1.27}, "y": {"datum": 108}}}
    ]},
   {"width": 265, "height": 179, "title": {"text": "f", "dx": -8, "dy": 9},
    "layer": [
     {"data": {"name": "fBars"}, "mark": {"type": "rect", "fill": "#f6a8a8", "stroke": "#ff0000", "strokeWidth": 1},
      "encoding": {
       "x": {"field": "x0", "type": "quantitative", "scale": {"domain": [0, 300], "nice": false, "zero": false}, "axis": {"title": "Jump Force(pN)", "values": [0,25,50,75,100,125,150,175,200,225,250,275,300], "labelExpr": "datum.value % 50 === 0 ? datum.label : ''", "tickSize": {"condition": {"test": "datum.value % 50 === 0", "value": 4}, "value": 2}}},
       "x2": {"field": "x1"},
       "y": {"field": "count", "type": "quantitative", "scale": {"domain": [0, 400], "nice": false}, "axis": {"title": "Count", "values": [0,50,100,150,200,250,300,350,400], "labelExpr": "datum.value % 100 === 0 ? datum.label : ''", "tickSize": {"condition": {"test": "datum.value % 100 === 0", "value": 4}, "value": 2}}},
       "y2": {"datum": 0}}},
     {"data": {"name": "fFit"}, "mark": {"type": "line", "color": "#1515ff", "strokeWidth": 1.7, "interpolate": "monotone"},
      "encoding": {"x": {"field": "x", "type": "quantitative"}, "y": {"field": "y", "type": "quantitative"}}},
     {"data": {"values": [{"label": "33.0±0.8pN"}]}, "mark": {"type": "text", "fontSize": 37, "fontWeight": "bold", "align": "left", "baseline": "alphabetic", "color": "#000"},
      "encoding": {"text": {"field": "label"}, "x": {"datum": 80.4}, "y": {"datum": 210}}}
    ]},
   {"width": 265, "height": 179, "title": {"text": "g", "dx": -13, "dy": -6},
    "layer": [
     {"data": {"name": "gBars"}, "mark": {"type": "rect", "fill": "#f6a8a8", "stroke": "#ff0000", "strokeWidth": 1},
      "encoding": {
       "x": {"field": "x0", "type": "quantitative", "scale": {"domain": [0, 2], "nice": false, "zero": false}, "axis": {"title": "Jump Length(μm)", "values": [0,0.25,0.5,0.75,1,1.25,1.5,1.75,2], "labelExpr": "datum.value % 0.5 === 0 ? format(datum.value, '.1f') : ''", "tickSize": {"condition": {"test": "datum.value % 0.5 === 0", "value": 4}, "value": 2}}},
       "x2": {"field": "x1"},
       "y": {"field": "count", "type": "quantitative", "scale": {"domain": [0, 300], "nice": false}, "axis": {"title": "Count", "values": [0,50,100,150,200,250,300], "labelExpr": "datum.value % 100 === 0 ? datum.label : ''", "tickSize": {"condition": {"test": "datum.value % 100 === 0", "value": 4}, "value": 2}}},
       "y2": {"datum": 0}}},
     {"data": {"name": "gFit"}, "mark": {"type": "line", "color": "#1515ff", "strokeWidth": 1.7, "interpolate": "monotone"},
      "encoding": {"x": {"field": "x", "type": "quantitative"}, "y": {"field": "y", "type": "quantitative"}}},
     {"data": {"values": [{"label": "0.06±0.01μm"}]}, "mark": {"type": "text", "fontSize": 37, "fontWeight": "bold", "align": "left", "baseline": "alphabetic", "color": "#000"},
      "encoding": {"text": {"field": "label"}, "x": {"datum": 0.43}, "y": {"datum": 154}}}
    ]}
],
"columns": 2,
"align": "each",
"spacing": {"row": 66, "column": 87},
"bounds": "flush"
}
